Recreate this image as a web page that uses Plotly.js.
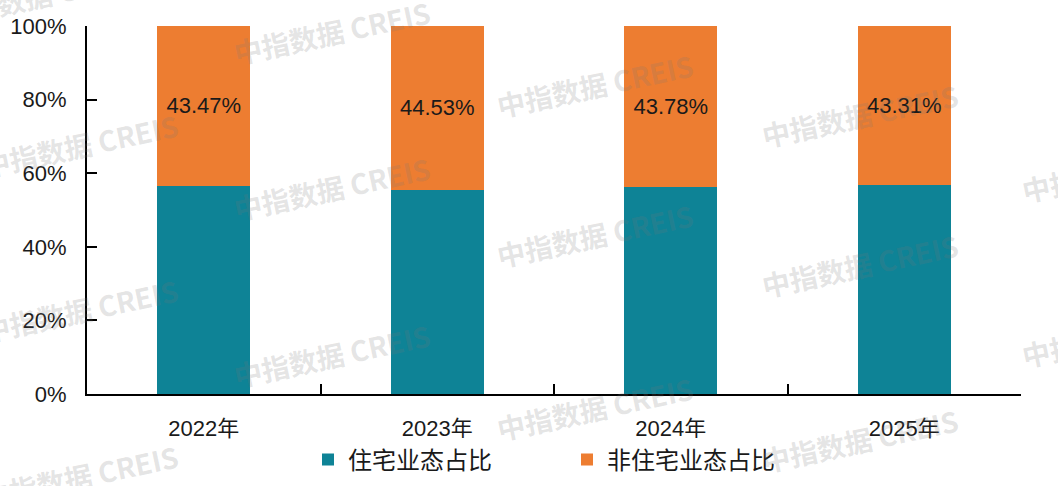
<!DOCTYPE html>
<html>
<head>
<meta charset="utf-8">
<script src="https://cdn.plot.ly/plotly-3.0.1.min.js"></script>
<style>
html,body{margin:0;padding:0;background:#fff;}
#chart{width:1058px;height:486px;}
</style>
</head>
<body>
<div id="chart"></div>
<script>
const categories = ['2022年', '2023年', '2024年', '2025年'];
const residentialShare = [56.53, 55.47, 56.22, 56.69];
const nonResidentialShare = [43.47, 44.53, 43.78, 43.31];
const seriesNames = ['住宅业态占比', '非住宅业态占比'];
const yTickValues = [0, 20, 40, 60, 80, 100];
const yTickLabels = ['0%', '20%', '40%', '60%', '80%', '100%'];
const watermarkText = '中指数据 CREIS';

const FONT = '"Liberation Sans", Arial, "Noto Sans CJK SC", sans-serif';
const W = 1058, H = 486;
const M = {l: 87, r: 37, t: 26, b: 92};
const pw = W - M.l - M.r, ph = H - M.t - M.b;
function px2paperX(px){ return (px - M.l) / pw; }
function px2paperY(py){ return (H - M.b - py) / ph; }

const wmPos = [
  [332, 32], [595, 85], [860, 115], [80, 145], [332, 188], [595, 235],
  [860, 265], [1120, 170], [80, 310], [332, 355], [595, 408], [860, 440],
  [80, 476], [1120, 335], [40, -5]
];
const watermarks = wmPos.map(p => ({
  text: watermarkText, xref: 'paper', yref: 'paper',
  x: px2paperX(p[0]), y: px2paperY(p[1]),
  xanchor: 'center', yanchor: 'middle',
  showarrow: false, textangle: -12,
  font: {family: '"Noto Sans CJK SC", sans-serif', size: 28, color: 'rgba(120,120,120,0.2)', weight: 'bold'}
}));

const traces = [
  {
    type: 'bar', name: seriesNames[0], x: categories, y: residentialShare,
    marker: {color: '#0E8396'}, hoverinfo: 'skip'
  },
  {
    type: 'bar', name: seriesNames[1], x: categories, y: nonResidentialShare,
    marker: {color: '#ED7D31'},
    text: nonResidentialShare.map(v => v.toFixed(2) + '%'),
    textposition: 'inside', insidetextanchor: 'middle',
    textfont: {family: FONT, size: 22, color: '#1a1a1a'},
    hoverinfo: 'skip'
  }
];

const layout = {
  width: W, height: H,
  margin: Object.assign({autoexpand: false}, M),
  barmode: 'stack',
  bargap: 0.6,
  paper_bgcolor: '#fff', plot_bgcolor: '#fff',
  font: {family: FONT, size: 21, color: '#1a1a1a'},
  showlegend: true,
  legend: {
    orientation: 'h', xref: 'container', x: 308 / W, xanchor: 'left',
    yref: 'container', y: 1 - 460 / H, yanchor: 'middle',
    font: {family: '"Noto Sans CJK SC", sans-serif', size: 24, color: '#1a1a1a'},
    entrywidth: 214, itemwidth: 30, traceorder: 'normal'
  },
  xaxis: {
    type: 'category', showgrid: false, zeroline: false,
    showline: true, linecolor: '#000', linewidth: 2,
    ticks: 'inside', tickson: 'boundaries', ticklen: 10, tickwidth: 2, tickcolor: '#000',
    tickfont: {family: FONT, size: 22, color: '#1a1a1a'},
    ticklabelstandoff: 14,
    fixedrange: true
  },
  yaxis: {
    range: [0, 100], tickvals: yTickValues, ticktext: yTickLabels,
    showgrid: false, zeroline: false,
    showline: true, linecolor: '#000', linewidth: 2,
    ticks: 'inside', ticklen: 10, tickwidth: 2, tickcolor: '#000',
    tickfont: {family: FONT, size: 22, color: '#1a1a1a'},
    ticklabelstandoff: 14,
    fixedrange: true
  },
  annotations: watermarks
};

Plotly.newPlot('chart', traces, layout, {displayModeBar: false, staticPlot: true});
</script>
</body>
</html>
